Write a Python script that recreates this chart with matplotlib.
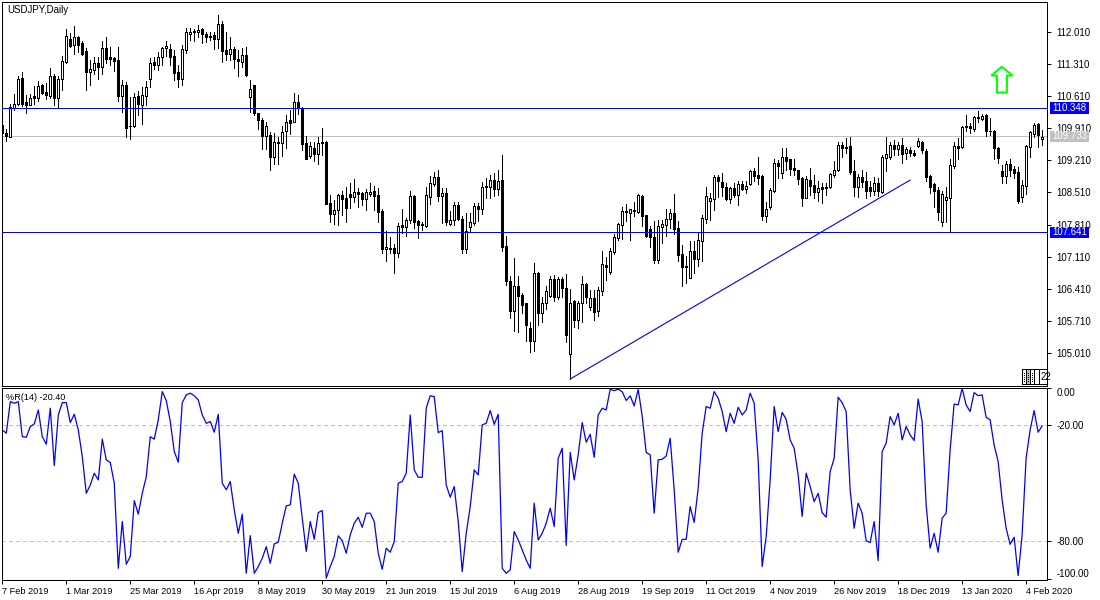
import numpy as np
import matplotlib
matplotlib.use('Agg')
import matplotlib.pyplot as plt
from matplotlib.lines import Line2D
from matplotlib.patches import Polygon, Rectangle
from matplotlib.transforms import blended_transform_factory

plt.rcParams['font.family'] = ['Liberation Sans', 'DejaVu Sans']

# daily candles
opens = [
    109.98,109.80,109.73,110.35,110.45,111.00,110.48,110.42,110.61,110.58,
    110.85,110.70,110.61,111.05,110.56,110.98,111.36,111.85,111.73,111.89,
    111.76,111.60,111.14,111.18,111.33,111.25,111.65,111.46,111.44,111.40,
    110.61,110.85,109.97,109.96,110.61,110.42,110.62,110.99,111.36,111.30,
    111.47,111.65,111.63,111.49,111.14,110.99,111.62,111.96,112.03,112.00,
    112.07,111.97,111.92,111.94,111.85,112.18,111.62,111.52,111.64,111.41,
    111.36,111.51,110.60,110.85,110.25,110.09,109.75,109.76,109.29,109.58,
    109.58,109.84,110.10,110.05,110.48,110.35,109.58,109.30,109.47,109.35,
    109.61,109.61,108.27,108.04,108.13,108.45,108.40,108.48,108.42,108.51,
    108.49,108.37,108.48,108.54,108.45,108.11,107.27,107.29,107.29,107.18,
    107.79,107.76,107.90,108.43,107.89,107.82,107.78,108.42,108.70,108.84,
    108.44,108.49,107.83,107.90,108.23,107.93,107.28,107.76,107.85,108.21,
    108.15,108.65,108.62,108.78,108.59,108.78,107.34,106.58,105.93,106.47,
    106.28,106.09,105.55,105.28,106.76,105.89,106.11,106.25,106.62,106.22,
    106.62,106.43,104.98,106.14,105.73,106.11,106.52,106.02,106.21,105.92,
    106.37,106.93,106.77,107.22,107.51,107.79,108.10,108.07,108.13,108.09,
    108.43,108.01,107.71,107.53,107.04,107.75,107.81,107.94,108.06,107.73,
    107.16,106.91,106.65,107.23,107.05,107.46,107.94,108.33,108.37,108.85,
    108.74,108.64,108.37,108.60,108.46,108.69,108.59,108.70,108.97,108.89,
    108.87,108.00,108.19,108.55,109.15,108.94,109.28,109.24,109.04,109.00,
    108.82,108.40,108.78,108.67,108.53,108.62,108.60,108.62,108.89,109.00,
    109.55,109.50,109.52,108.98,108.62,108.84,108.76,108.64,108.54,108.71,
    108.53,109.27,109.29,109.54,109.46,109.55,109.36,109.44,109.38,109.52,
    109.62,109.42,108.87,108.70,108.56,107.87,108.35,108.40,109.09,109.52,
    109.51,109.93,109.97,109.89,110.16,110.11,110.20,109.86,109.84,109.47,
    108.98,108.88,109.13,109.02,108.96,108.42,108.66,109.51,109.79,110.00,109.68,
]
highs = [
    110.00,109.89,110.45,110.66,111.05,111.14,110.64,110.66,110.83,110.94,
    110.88,110.89,111.22,111.09,111.05,111.49,112.07,111.98,112.14,111.92,
    111.81,111.65,111.40,111.46,111.47,111.82,111.89,111.69,111.47,111.69,
    110.96,110.91,110.60,110.67,110.73,110.80,110.95,111.45,111.46,111.58,
    111.69,111.82,111.75,111.62,111.29,111.73,112.09,112.09,112.07,112.16,
    112.09,112.00,112.00,112.02,112.39,112.24,112.02,111.91,111.69,111.62,
    111.67,111.69,110.96,110.85,110.25,110.13,110.04,109.82,109.80,109.73,
    109.96,110.20,110.31,110.67,110.64,110.37,109.74,109.60,109.62,109.71,
    109.92,109.63,108.45,108.35,108.48,108.55,108.62,108.71,108.80,108.60,
    108.53,108.59,108.71,108.66,108.60,108.15,107.66,107.53,107.38,107.84,
    108.15,107.95,108.54,108.45,107.91,107.86,108.62,108.87,108.96,109.00,
    108.60,108.60,108.11,108.31,108.31,108.00,108.06,108.07,108.29,108.29,
    108.74,108.82,108.89,108.93,109.00,109.33,107.56,106.69,107.09,106.69,
    106.31,106.11,105.69,106.98,106.78,106.24,106.46,106.69,106.70,106.67,
    106.66,106.73,106.40,106.16,106.14,106.69,106.54,106.38,106.38,106.44,
    107.23,107.10,107.29,107.60,107.84,108.19,108.25,108.16,108.30,108.48,
    108.46,108.02,107.78,107.89,107.91,107.91,108.16,108.16,108.47,107.89,
    107.37,107.12,107.45,107.45,107.62,108.02,108.62,108.49,108.89,108.89,
    108.93,108.71,108.64,108.72,108.75,108.75,108.75,109.00,109.05,109.28,
    108.89,108.31,108.60,109.24,109.22,109.47,109.47,109.25,109.25,109.00,
    108.84,108.87,109.05,108.89,108.75,108.71,108.72,108.94,109.20,109.62,
    109.60,109.69,109.71,109.22,108.91,109.00,108.96,108.75,108.84,108.82,
    109.33,109.71,109.62,109.65,109.62,109.69,109.51,109.51,109.44,109.69,
    109.64,109.45,108.89,108.72,108.62,108.55,108.64,109.23,109.60,109.69,
    109.96,110.20,110.02,110.18,110.29,110.22,110.22,110.13,109.87,109.50,
    109.11,109.20,109.25,109.09,109.07,108.78,109.55,109.86,110.02,110.02,109.87,
]
lows = [
    109.73,109.64,109.73,110.31,110.42,110.40,110.25,110.42,110.45,110.51,
    110.66,110.55,110.56,110.42,110.35,110.74,111.33,111.69,111.54,111.58,
    111.51,110.74,110.85,111.09,110.99,111.09,111.33,111.29,111.15,110.51,
    110.27,109.73,109.68,109.94,110.20,110.00,110.42,110.80,111.20,111.18,
    111.28,111.49,111.28,110.96,110.82,110.85,111.56,111.84,111.82,111.91,
    111.76,111.80,111.84,111.63,111.65,111.36,111.40,111.40,111.22,111.04,
    111.25,111.05,110.27,110.20,109.89,109.46,109.46,109.00,109.13,109.13,
    109.31,109.47,109.79,110.04,110.22,109.44,109.23,109.27,109.20,109.13,
    109.33,108.26,107.87,107.82,107.80,108.02,107.86,108.18,108.31,108.19,
    108.24,108.13,108.43,108.13,107.87,107.18,107.02,107.20,106.76,107.11,
    107.62,107.55,107.84,107.74,107.52,107.69,107.75,108.26,108.65,108.32,
    107.84,107.80,107.79,107.79,107.90,107.20,107.20,107.68,107.80,107.89,
    108.03,108.40,108.40,108.43,108.45,107.24,106.49,105.78,105.49,105.46,
    105.89,105.26,105.04,105.06,105.63,105.68,105.97,106.22,106.15,106.19,
    106.24,105.24,104.44,105.58,105.55,105.69,106.09,105.95,105.72,105.82,
    106.27,106.60,106.73,107.17,107.47,107.50,107.89,107.47,108.00,108.07,
    107.77,107.53,107.31,106.97,106.98,107.40,107.55,107.73,107.60,107.02,
    106.48,106.54,106.64,106.75,106.91,107.02,107.84,107.92,108.13,108.42,
    108.43,108.35,108.27,108.42,108.24,108.56,108.49,108.67,108.75,108.69,
    107.91,107.87,108.16,108.53,108.82,108.82,109.00,108.89,108.89,108.70,
    108.22,108.38,108.45,108.38,108.32,108.27,108.46,108.60,108.85,108.98,
    109.29,109.36,108.91,108.43,108.42,108.64,108.40,108.43,108.45,108.43,
    108.49,108.98,109.25,109.33,109.33,109.16,109.23,109.30,109.30,109.51,
    109.38,108.75,108.49,108.20,107.90,107.78,107.87,107.65,109.04,109.25,
    109.49,109.84,109.80,109.86,110.04,110.08,109.75,109.76,109.25,109.16,
    108.72,108.71,108.87,108.82,108.29,108.30,108.48,109.29,109.73,109.51,109.55,
]
closes = [
    109.80,109.74,110.37,110.45,110.98,110.44,110.42,110.58,110.58,110.83,
    110.69,110.64,111.05,110.56,110.98,111.38,111.92,111.71,111.89,111.73,
    111.54,111.14,111.20,111.34,111.25,111.65,111.42,111.43,111.38,110.61,
    110.85,109.92,109.96,110.60,110.44,110.63,110.80,111.33,111.29,111.47,
    111.66,111.70,111.46,111.12,110.99,111.63,112.00,112.02,112.01,112.05,
    111.96,111.89,111.89,111.85,112.18,111.60,111.54,111.64,111.41,111.37,
    111.51,111.07,110.77,110.24,110.08,109.75,109.96,109.29,109.60,109.60,
    109.82,110.04,110.03,110.48,110.35,109.57,109.25,109.52,109.35,109.58,
    109.58,108.26,108.04,108.13,108.45,108.37,108.18,108.41,108.51,108.48,
    108.37,108.53,108.53,108.43,108.09,107.28,107.31,107.27,107.18,107.78,
    107.76,107.91,108.43,107.87,107.81,107.81,108.45,108.71,108.84,108.43,
    108.49,107.87,107.90,108.23,107.93,107.28,107.68,107.86,108.21,108.16,
    108.62,108.62,108.78,108.59,108.77,107.33,106.59,105.93,106.47,106.25,
    106.06,105.63,105.28,106.75,105.89,106.11,106.36,106.62,106.22,106.62,
    106.43,105.40,106.11,105.73,106.11,106.51,106.24,106.21,105.91,106.38,
    106.94,106.89,107.23,107.54,107.82,108.11,108.08,108.14,108.10,108.46,
    108.00,107.55,107.53,107.04,107.77,107.82,107.93,108.06,107.72,107.15,
    106.89,106.89,107.23,107.06,107.47,107.95,108.43,108.38,108.85,108.75,
    108.62,108.37,108.60,108.46,108.69,108.59,108.66,108.97,108.88,108.83,
    108.00,108.16,108.56,109.15,109.09,109.28,109.20,109.02,108.99,108.80,
    108.40,108.80,108.66,108.53,108.60,108.58,108.64,108.91,109.00,109.55,
    109.49,109.47,108.96,108.62,108.84,108.73,108.55,108.55,108.71,108.54,
    109.28,109.34,109.54,109.46,109.55,109.35,109.45,109.38,109.33,109.63,
    109.44,108.84,108.64,108.55,108.09,108.48,108.42,109.10,109.52,109.49,
    109.93,109.97,109.91,110.16,110.13,110.18,109.86,109.84,109.47,109.27,
    108.88,109.13,109.00,108.94,108.33,108.67,109.52,109.83,109.98,109.76,109.73,
]

# Williams %R(14)
wpr = [
    -22.4,-24.1,-7.8,-8.6,-7.8,-25.9,-26.2,-20.7,-19.3,-12.1,
    -25.9,-29.8,-11.2,-40.9,-14.7,-8.3,-8.3,-18.6,-14.3,-22.4,
    -36.2,-55.2,-50.9,-44.8,-48.3,-27.2,-37.9,-39.3,-50.0,-94.0,
    -69.8,-91.9,-87.9,-59.0,-66.0,-55.2,-46.6,-25.9,-27.2,-17.2,
    -2.6,-7.2,-18.1,-33.6,-39.1,-8.3,-4.3,-3.4,-4.7,-6.9,
    -14.7,-19.0,-18.1,-23.6,-14.3,-50.0,-53.4,-49.1,-63.8,-75.9,
    -66.0,-96.6,-77.1,-96.6,-93.1,-88.8,-82.8,-91.4,-81.4,-80.5,
    -70.7,-61.7,-61.2,-45.3,-50.0,-68.1,-85.3,-69.8,-79.0,-65.2,
    -64.1,-99.1,-93.1,-87.9,-77.2,-79.7,-86.2,-76.7,-70.7,-67.6,
    -72.8,-65.5,-65.5,-69.8,-86.2,-94.5,-83.6,-85.7,-80.2,-50.0,
    -49.1,-44.8,-14.7,-43.1,-46.9,-46.9,-11.2,-4.7,-5.2,-23.8,
    -22.8,-50.9,-57.2,-51.7,-69.8,-95.7,-75.9,-62.1,-43.1,-45.7,
    -19.8,-19.0,-12.4,-19.5,-14.3,-94.0,-96.6,-94.8,-75.0,-79.3,
    -84.5,-89.7,-94.0,-60.3,-79.3,-75.9,-70.7,-62.9,-72.4,-37.1,
    -31.9,-82.2,-34.0,-48.3,-35.3,-18.6,-28.8,-24.7,-36.6,-14.7,
    -11.2,-12.1,-1.4,-2.1,-1.4,-2.6,-7.2,-4.8,-10.0,-1.4,
    -15.2,-34.1,-35.3,-65.5,-37.9,-37.6,-35.9,-26.7,-53.4,-85.7,
    -79.0,-79.0,-62.1,-70.3,-52.6,-24.1,-10.3,-11.2,-2.6,-6.0,
    -12.9,-23.3,-13.8,-19.0,-10.7,-14.7,-12.1,-3.4,-8.6,-37.9,
    -93.1,-77.6,-48.3,-10.3,-23.3,-13.4,-16.9,-27.6,-31.9,-45.7,
    -67.2,-44.8,-51.7,-59.5,-55.2,-65.2,-67.6,-44.0,-37.1,-5.5,
    -8.3,-12.9,-53.4,-73.3,-60.3,-65.5,-79.7,-80.7,-69.8,-90.0,
    -33.6,-29.3,-15.5,-19.8,-13.8,-27.6,-20.7,-25.0,-27.9,-6.4,
    -18.1,-61.2,-83.6,-75.9,-85.7,-68.1,-65.5,-32.8,-9.0,-9.5,
    -0.9,-9.5,-12.9,-3.1,-4.7,-4.3,-15.9,-17.2,-30.2,-38.8,
    -58.6,-73.3,-81.6,-77.9,-97.8,-76.7,-37.1,-22.4,-12.4,-23.6,-20.4,
]

price_ticks = [112.010, 111.310, 110.610, 109.910, 109.210, 108.510, 107.810, 107.110, 106.410, 105.710, 105.010]
date_labels = ['7 Feb 2019', '1 Mar 2019', '25 Mar 2019', '16 Apr 2019', '8 May 2019', '30 May 2019',
               '21 Jun 2019', '15 Jul 2019', '6 Aug 2019', '28 Aug 2019', '19 Sep 2019', '11 Oct 2019',
               '4 Nov 2019', '26 Nov 2019', '18 Dec 2019', '13 Jan 2020', '4 Feb 2020']
date_idx = list(range(0, 257, 16))
levels = [110.348, 107.641]
last_price = 109.733
trend_x = [142, 227]
trend_y = [104.44, 108.78]

BLUE = '#0000ff'
SILVER = '#c0c0c0'
PX = 0.72  # one pixel in points at dpi 100
W, H = 1100, 600
XLIM = (0.07, 261.22)


def axes_px(left, top, right, bottom):
    return [left / W, 1 - bottom / H, (right - left) / W, (bottom - top) / H]


fig = plt.figure(figsize=(11, 6), dpi=100, facecolor='white')
ax = fig.add_axes(axes_px(2.3, 2, 1047, 385.5))
ax2 = fig.add_axes(axes_px(2.3, 387.5, 1047, 579.5))

o, h, l, c = map(np.array, (opens, highs, lows, closes))
x = np.arange(len(o))
up = c >= o

# price panel
ax.axhline(last_price, color=SILVER, lw=PX, zorder=1, antialiased=False)
ax.vlines(x, l, h, color='black', lw=PX, zorder=2, antialiased=False)
ax.bar(x[up], (c - o)[up], bottom=o[up], width=0.5, facecolor='white', edgecolor='black',
       linewidth=PX, zorder=3, antialiased=False)
ax.bar(x[~up], (o - c)[~up], bottom=c[~up], width=0.5, facecolor='black', edgecolor='black',
       linewidth=PX, zorder=3, antialiased=False)
for lev in levels:
    ax.axhline(lev, color=BLUE, lw=PX, zorder=4, antialiased=False)
ax.plot(trend_x, trend_y, color=BLUE, lw=0.8, zorder=4)

ax.set_xlim(*XLIM)
ax.set_ylim(104.30, 112.664)
ax.set_xticks([])
ax.yaxis.tick_right()
ax.set_yticks(price_ticks)
ax.set_yticklabels(['%.3f' % p for p in price_ticks], fontsize=6.9)
ax.tick_params(axis='y', length=3, width=PX, pad=4)

ax.text(7 / W, 1 - 10 / H, 'USDJPY,Daily', transform=fig.transFigure, fontsize=7.0, va='center', zorder=6)

# up arrow object
arrow_x = [249.9, 247.3, 248.7, 248.7, 251.2, 251.2, 252.6]
arrow_y = [111.25, 111.06, 111.06, 110.69, 110.69, 111.06, 111.06]
ax.add_patch(Polygon(list(zip(arrow_x, arrow_y)), closed=True, facecolor='white', edgecolor='#00ff00',
                     linewidth=PX * 2, zorder=5))

# price boxes on the right
box_tr = blended_transform_factory(ax.transAxes, ax.transData)
for val, col in [(levels[0], BLUE), (levels[1], BLUE), (last_price, SILVER)]:
    ax.add_patch(Rectangle((1.0029, val - 0.125), 0.0373, 0.25, transform=box_tr, facecolor=col, edgecolor='none',
                           clip_on=False, zorder=7))
    ax.text(1.0055, val, '%.3f' % val, transform=box_tr, color='white', fontsize=6.9, va='center', ha='left',
            clip_on=False, zorder=8)

# small scale boxes in the corner
scale_boxes = [(1022, 1026, 'white'), (1026, 1030, '#c0c0c0'), (1030, 1034, 'white'), (1034, 1039, 'white'),
               (1039, 1047, 'white')]
for bx0, bx1, fc in scale_boxes:
    fig.add_artist(Rectangle((bx0 / W, 1 - 384 / H), (bx1 - bx0) / W, 15 / H, transform=fig.transFigure,
                             facecolor=fc, edgecolor='black', linewidth=PX, antialiased=False))
for bx in [1024, 1028, 1032]:
    fig.add_artist(Line2D([bx / W, bx / W], [1 - 381 / H, 1 - 372 / H], transform=fig.transFigure, color='black',
                          lw=PX, ls=(0, (1, 2)), antialiased=False))
fig.text(1040.5 / W, 1 - 377 / H, '22', fontsize=7, ha='left', va='center')

# %R panel
ax2.axhline(-20, color=SILVER, lw=PX, ls=(0, (4, 4)), zorder=1, antialiased=False)
ax2.axhline(-80, color=SILVER, lw=PX, ls=(0, (4, 4)), zorder=1, antialiased=False)
ax2.plot(x, wpr, color=BLUE, lw=0.9, zorder=2)
ax2.set_xlim(*XLIM)
ax2.set_ylim(-99.8, -0.47)
ax2.yaxis.tick_right()
ax2.set_yticks([-0.8, -20, -80, -99.5])
ax2.set_yticklabels(['0.00', '-20.00', '-80.00', '-100.00'], fontsize=6.9)
ax2.get_yticklabels()[0].set_va('top')
ax2.get_yticklabels()[3].set_va('bottom')
ax2.tick_params(axis='y', length=3, width=PX, pad=4)
ax2.set_xticks(date_idx)
ax2.set_xticklabels(date_labels, fontsize=6.6, ha='left')
ax2.tick_params(axis='x', length=3, width=PX, pad=2.5)
ax2.text(6 / W, 1 - 397 / H, '%R(14) -20.40', transform=fig.transFigure, fontsize=6.6, va='center', zorder=6)

for a in (ax, ax2):
    for s in a.spines.values():
        s.set_linewidth(PX)

fig.savefig('out.png', dpi=100)
